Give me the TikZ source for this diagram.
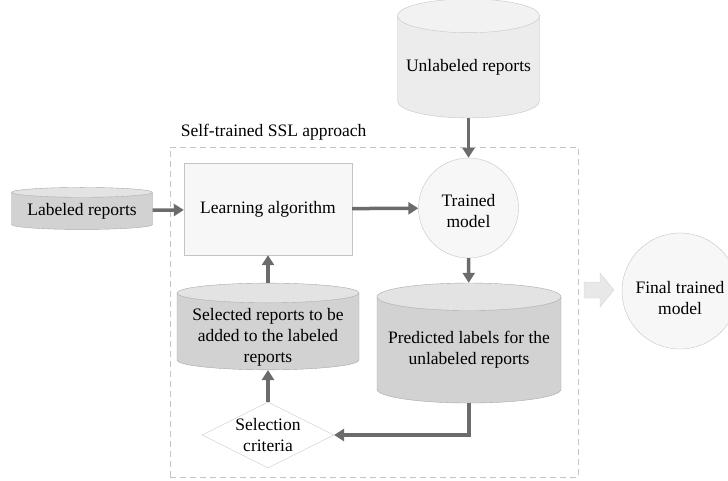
\documentclass[tikz,border=0pt]{standalone}
\usepackage{fontspec}
\setmainfont{Liberation Serif}
\usetikzlibrary{arrows.meta,positioning,shapes.geometric}
\definecolor{flowgray}{HTML}{6B6B6B}
\definecolor{edgegray}{HTML}{C4C4C4}
\definecolor{darkedge}{HTML}{A8A8A8}
\definecolor{lightbody}{HTML}{ECECEC}
\definecolor{lightend}{HTML}{F2F2F2}
\definecolor{darkbody}{HTML}{D2D2D2}
\definecolor{darkend}{HTML}{E3E3E3}
\definecolor{paper}{HTML}{F7F7F7}
\definecolor{hintfill}{HTML}{E8E8E8}
\definecolor{hintedge}{HTML}{D4D4D4}
\newcommand{\lowtext}[2]{\raisebox{#1}[\height][\depth]{\begin{tabular}{@{}c@{}}#2\end{tabular}}}

\begin{document}
\begin{tikzpicture}[x=1pt,y=-1pt,>=latex,font=\fontsize{17.5}{21}\selectfont]
\tikzstyle{db}=[cylinder,shape border rotate=90,draw=darkedge,cylinder uses custom fill,cylinder body fill=darkbody,cylinder end fill=darkend,align=center,inner sep=0pt]
\tikzstyle{dbl}=[db,draw=edgegray,cylinder body fill=lightbody,cylinder end fill=lightend]
\tikzstyle{proc}=[rectangle,draw=edgegray,fill=paper,inner sep=0pt]
\tikzstyle{mdl}=[circle,draw=edgegray,fill=paper,align=center,inner sep=0pt]
\tikzstyle{crit}=[diamond,draw=edgegray,fill=white,aspect=2,align=center,inner sep=0pt]
\tikzstyle{flow}=[-{Triangle[length=10pt,width=12pt]},line width=3.5pt,draw=flowgray]
\tikzstyle{frame}=[draw=edgegray,dashed,dash pattern=on 6pt off 4pt,thick]
\tikzstyle{hint}=[draw=hintedge,fill=hintfill,line join=miter]
\useasboundingbox (0,0) rectangle (728,480);
\node[frame,minimum width=408,minimum height=330] (SSL) at (374,312) {};
\node[anchor=south west,inner sep=0pt] (SSLT) at ([xshift=11pt,yshift=6pt]SSL.north west) {Self-trained SSL approach};
\node[dbl,minimum width=142,minimum height=119,aspect=0.27] (UR) at (468.5,67) {Unlabeled reports};
\node[db,minimum width=141,minimum height=42,aspect=0.09] (LR) at (82,211) {Labeled reports};
\node[proc,minimum width=168,minimum height=92] (LA) at (268,209) {Learning algorithm};
\node[mdl,minimum size=100] (TM) at (468.5,208) {\lowtext{-4.5pt}{Trained\\model}};
\node[db,minimum width=184,minimum height=120,aspect=0.17] (PL) at (469,350) {Predicted labels for the\\unlabeled reports};
\node[db,minimum width=182,minimum height=79,aspect=0.13,inner ysep=-3pt] (SR) at (268,331.5) {\lowtext{-5.5pt}{Selected reports to be\\added to the labeled\\reports}};
\node[crit,minimum width=130,minimum height=65] (SC) at (268,435) {Selection\\criteria};
\node[mdl,minimum size=116] (FM) at (680,291) {\lowtext{-9pt}{Final trained\\model}};
% hollow hint arrow towards the final model
\coordinate (FA) at (584,290);
\draw[hint] (FA) ++(0,-8) -- ++(16,0) -- ++(0,-9) -- ++(14,17) -- ++(-14,17) -- ++(0,-9) -- ++(-16,0) -- cycle;
\draw[flow] (UR) -- (TM);
\draw[flow] (LR) -- (LA);
\draw[flow] (LA) -- (TM);
\draw[flow] (TM) -- (PL);
\draw[flow] (SR) -- (LA);
\draw[flow] (SC) -- (SR);
\draw[flow] (PL) |- (SC);
\end{tikzpicture}
\end{document}
